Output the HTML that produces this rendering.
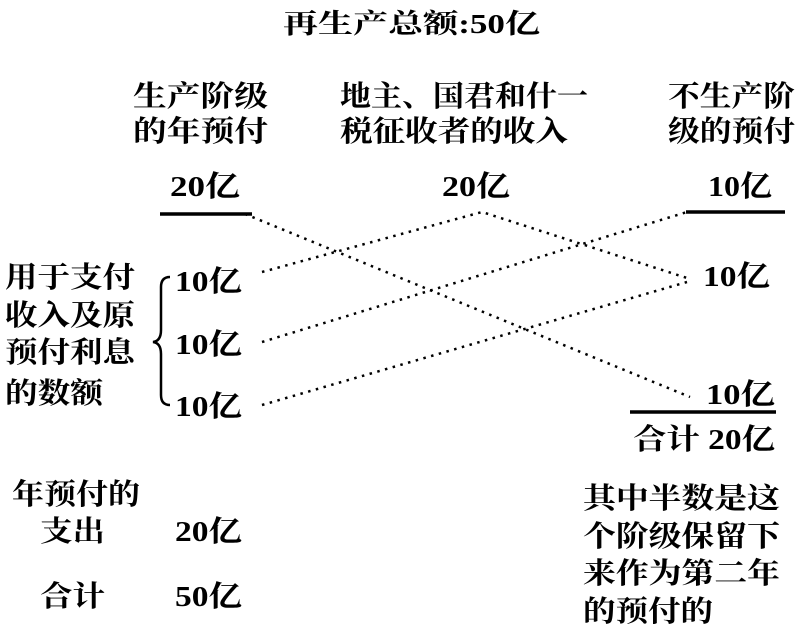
<!DOCTYPE html>
<html><head><meta charset="utf-8"><style>
html,body{margin:0;padding:0;background:#fff;}
svg{display:block;}
text{font-family:"Liberation Serif","Noto Serif CJK SC",serif;font-weight:bold;font-size:29px;fill:#000;}
</style></head><body>
<svg width="799" height="639" viewBox="0 0 799 639" xmlns="http://www.w3.org/2000/svg">
<g lengthAdjust="spacingAndGlyphs">
<text x="283" y="33" textLength="257" lengthAdjust="spacingAndGlyphs" style="font-size:27px">再生产总额:50亿</text>
<text x="133" y="106" textLength="135" lengthAdjust="spacingAndGlyphs">生产阶级</text>
<text x="133" y="141" textLength="135" lengthAdjust="spacingAndGlyphs">的年预付</text>
<text x="340" y="106" textLength="248" lengthAdjust="spacingAndGlyphs">地主、国君和什一</text>
<text x="340" y="141" textLength="228" lengthAdjust="spacingAndGlyphs">税征收者的收入</text>
<text x="668" y="106" textLength="127" lengthAdjust="spacingAndGlyphs">不生产阶</text>
<text x="668" y="141" textLength="127" lengthAdjust="spacingAndGlyphs">级的预付</text>
<text x="170" y="196" textLength="70" lengthAdjust="spacingAndGlyphs">20亿</text>
<text x="442" y="196" textLength="68" lengthAdjust="spacingAndGlyphs">20亿</text>
<text x="708" y="196" textLength="64" lengthAdjust="spacingAndGlyphs">10亿</text>
<text x="5" y="287" textLength="130" lengthAdjust="spacingAndGlyphs">用于支付</text>
<text x="5" y="325" textLength="130" lengthAdjust="spacingAndGlyphs">收入及原</text>
<text x="5" y="362" textLength="130" lengthAdjust="spacingAndGlyphs">预付利息</text>
<text x="5" y="403" textLength="98" lengthAdjust="spacingAndGlyphs">的数额</text>
<text x="175" y="291" textLength="67" lengthAdjust="spacingAndGlyphs">10亿</text>
<text x="175" y="354" textLength="67" lengthAdjust="spacingAndGlyphs">10亿</text>
<text x="175" y="416" textLength="67" lengthAdjust="spacingAndGlyphs">10亿</text>
<text x="703" y="286" textLength="67" lengthAdjust="spacingAndGlyphs">10亿</text>
<text x="706" y="404" textLength="69" lengthAdjust="spacingAndGlyphs">10亿</text>
<text x="633" y="449" textLength="142" lengthAdjust="spacingAndGlyphs">合计 20亿</text>
<text x="12" y="504" textLength="128" lengthAdjust="spacingAndGlyphs">年预付的</text>
<text x="40" y="541" textLength="65" lengthAdjust="spacingAndGlyphs">支出</text>
<text x="175" y="541" textLength="67" lengthAdjust="spacingAndGlyphs">20亿</text>
<text x="40" y="606" textLength="65" lengthAdjust="spacingAndGlyphs">合计</text>
<text x="175" y="606" textLength="67" lengthAdjust="spacingAndGlyphs">50亿</text>
<text x="583" y="508" textLength="197" lengthAdjust="spacingAndGlyphs">其中半数是这</text>
<text x="583" y="546" textLength="197" lengthAdjust="spacingAndGlyphs">个阶级保留下</text>
<text x="583" y="583" textLength="197" lengthAdjust="spacingAndGlyphs">来作为第二年</text>
<text x="583" y="621" textLength="130" lengthAdjust="spacingAndGlyphs">的预付的</text>
</g>
<g stroke="#000" stroke-width="3.5" fill="none">
<line x1="160" y1="214" x2="252" y2="214"/>
<line x1="686" y1="212" x2="785" y2="212"/>
<line x1="630" y1="412" x2="776" y2="412"/>
</g>
<path d="M170 277 Q161 277 161 287 L161 330 Q161 341 153 342 Q161 343 161 354 L161 395 Q161 405 170 405" stroke="#000" stroke-width="2.5" fill="none"/>
<g stroke="#000" stroke-width="2.5" fill="none" stroke-dasharray="2.5 5.5">
<line x1="245" y1="214" x2="690" y2="397"/>
<polyline points="262,272 482,212 687,278"/>
<line x1="262" y1="342" x2="687" y2="212"/>
<line x1="262" y1="405" x2="687" y2="282"/>
</g>
</svg>
</body></html>
